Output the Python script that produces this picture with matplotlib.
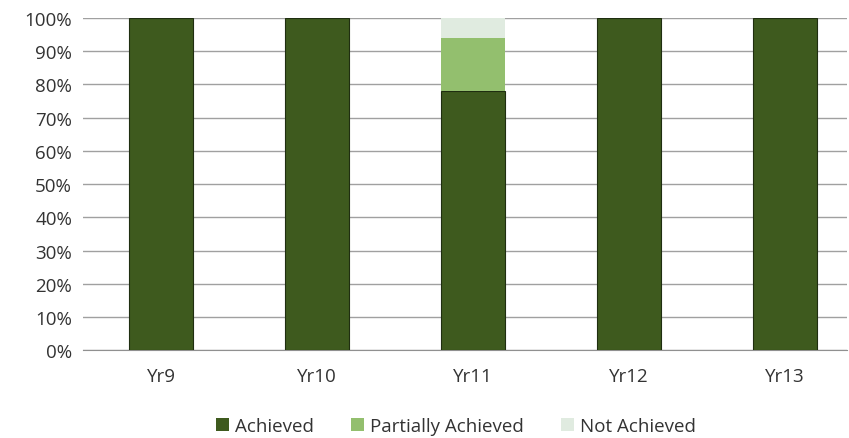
import matplotlib
matplotlib.use("Agg")
import matplotlib.pyplot as plt
import numpy as np
from matplotlib.patches import Patch

categories = ["Yr9", "Yr10", "Yr11", "Yr12", "Yr13"]
achieved = [100, 100, 78, 100, 100]
partially = [0, 0, 16, 0, 0]
not_achieved = [0, 0, 6, 0, 0]
yticks = [0, 10, 20, 30, 40, 50, 60, 70, 80, 90, 100]

colors = ["#3e5a1e", "#93bf6e", "#e0ebe0"]
labels = ["Achieved", "Partially Achieved", "Not Achieved"]

plt.rcParams['font.family'] = ['Open Sans', 'DejaVu Sans']
fig = plt.figure(figsize=(8.49, 4.39), dpi=100)
ax = fig.add_axes([0.098, 0.2, 0.9, 0.757])

x = np.arange(len(categories))
w = 0.41
ax.bar(x, achieved, w, color=colors[0], edgecolor="#1f2e10", linewidth=0.8, zorder=3)
ax.bar(x, partially, w, bottom=achieved, color=colors[1], linewidth=0, zorder=3)
bottom2 = [a + p for a, p in zip(achieved, partially)]
ax.bar(x, not_achieved, w, bottom=bottom2, color=colors[2], linewidth=0, zorder=3)

ax.set_xlim(-0.5, 4.4)
ax.set_ylim(0, 100)
ax.set_yticks(yticks)
ax.set_yticklabels([f"{v}%" for v in yticks], fontsize=13.5, color="#333333")
ax.set_xticks(x)
ax.set_xticklabels(categories, fontsize=13.5, color="#333333")
ax.tick_params(length=0, pad=8)
ax.tick_params(axis='x', pad=12)
ax.yaxis.grid(True, color="#a0a0a0", linewidth=1.0, zorder=0)
for s in ["top", "right", "left"]:
    ax.spines[s].set_visible(False)
ax.spines["bottom"].set_color("#909090")

handles = [Patch(facecolor=c, label=l) for c, l in zip(colors, labels)]
fig.legend(handles=handles, loc="center", bbox_to_anchor=(0.537, 0.028), ncol=3,
           frameon=False, fontsize=13.5, handlelength=0.7, handleheight=0.7,
           handletextpad=0.3, columnspacing=2.0, labelcolor="#333333")

fig.savefig("out.png", dpi=100)
